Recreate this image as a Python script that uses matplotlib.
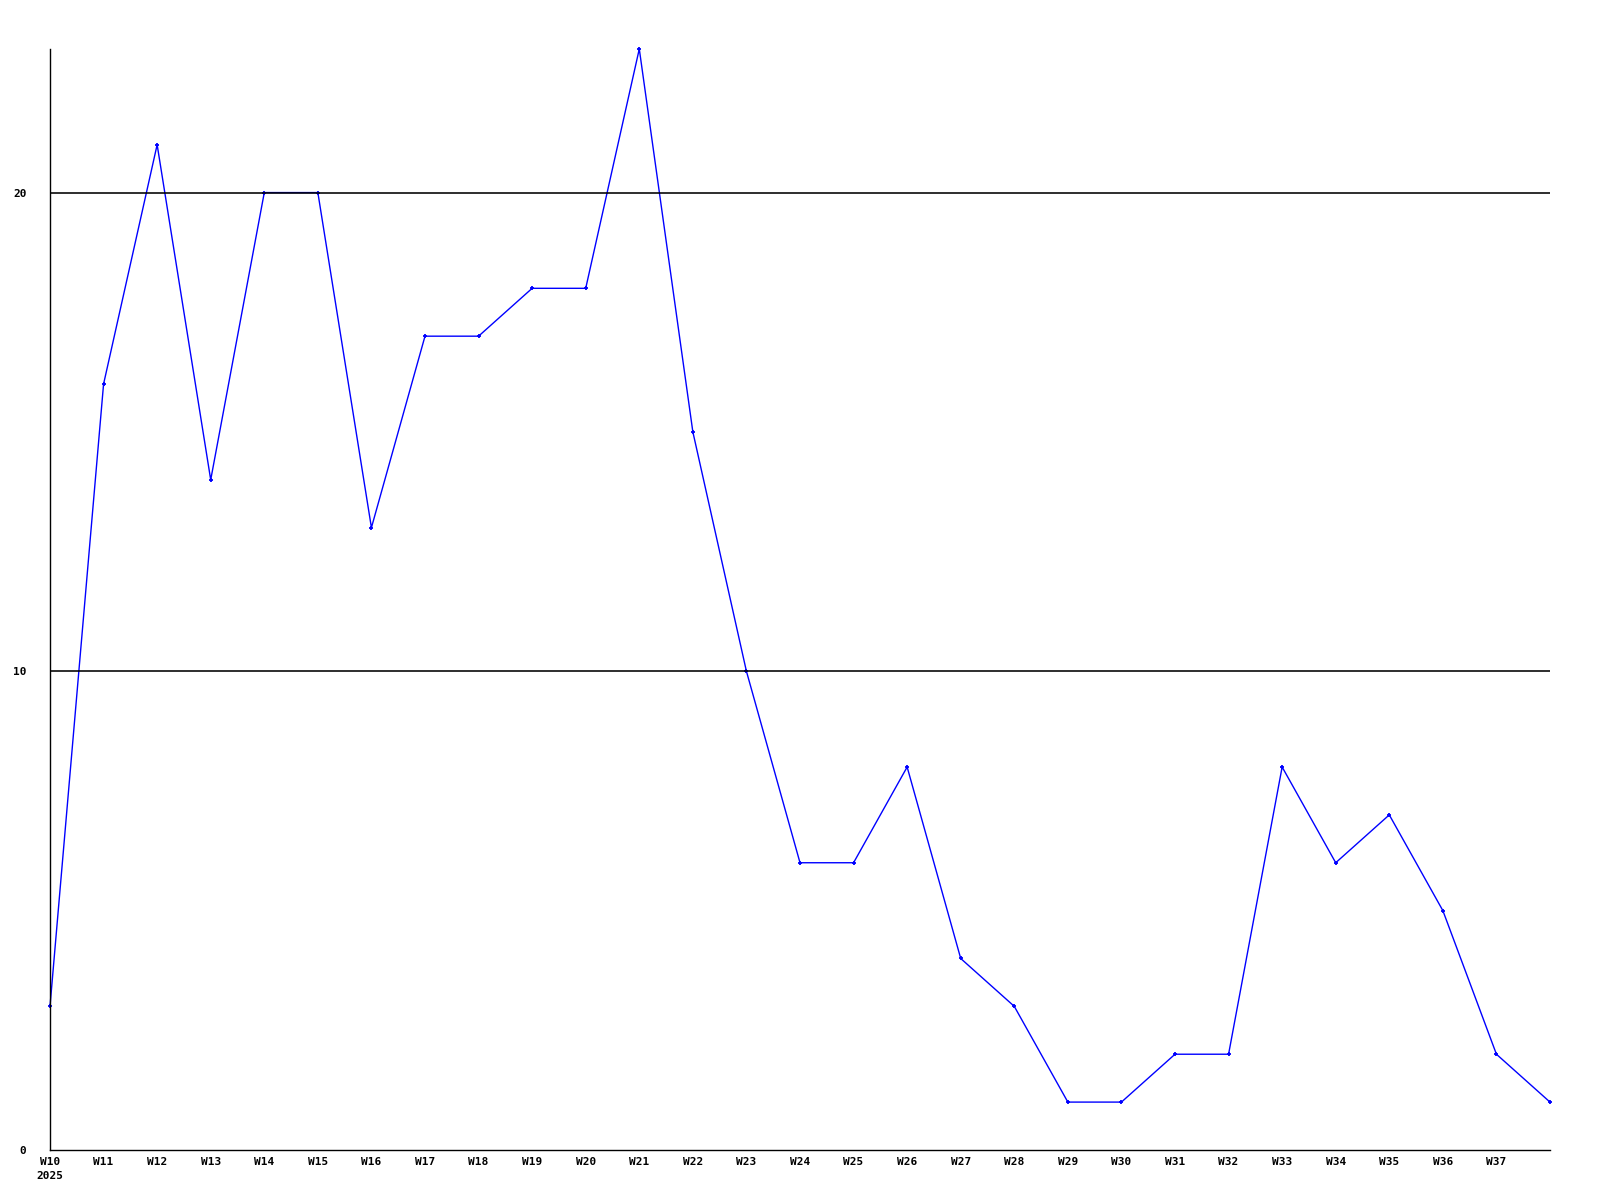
import matplotlib
matplotlib.use("Agg")
import matplotlib.pyplot as plt

weeks = ["W10", "W11", "W12", "W13", "W14", "W15", "W16", "W17", "W18", "W19",
         "W20", "W21", "W22", "W23", "W24", "W25", "W26", "W27", "W28", "W29",
         "W30", "W31", "W32", "W33", "W34", "W35", "W36", "W37", ""]
values = [3, 16, 21, 14, 20, 20, 13, 17, 17, 18,
          18, 23, 15, 10, 6, 6, 8, 4, 3, 1,
          1, 2, 2, 8, 6, 7, 5, 2, 1]
year = "2025"
yticks = [0, 10, 20]

font = dict(family="DejaVu Sans Mono", weight="bold", size=8)

fig = plt.figure(figsize=(16, 12), dpi=100)
ax = fig.add_axes([0.03125, 0.0417, 0.9375, 0.9175])

xs = list(range(len(values)))
ax.plot(xs, values, color="#0000ff", linewidth=1, marker="+", markersize=3.5,
        markeredgewidth=1.3, zorder=2, clip_on=False)

# grid lines sit on top of the series, like the original
for y in yticks[1:]:
    ax.axhline(y, color="black", linewidth=1.15, zorder=3)

ax.set_xlim(0, len(values) - 1)
ax.set_ylim(0, max(values))
ax.set_xticks(xs)
ax.set_xticklabels(weeks, **font)
ax.set_yticks(yticks)
ax.set_yticklabels([str(v) for v in yticks], **font)
ax.tick_params(length=0)
ax.tick_params(axis="y", pad=17)
ax.tick_params(axis="x", pad=5)

ax.annotate(year, xy=(0, 0), xycoords=("data", "axes fraction"),
            xytext=(-10, -15.5), textcoords="offset points",
            ha="left", va="top", **font)

for side in ["top", "right"]:
    ax.spines[side].set_visible(False)
ax.spines["left"].set_linewidth(1)
ax.spines["bottom"].set_linewidth(1)

fig.savefig("out.png", dpi=100)
